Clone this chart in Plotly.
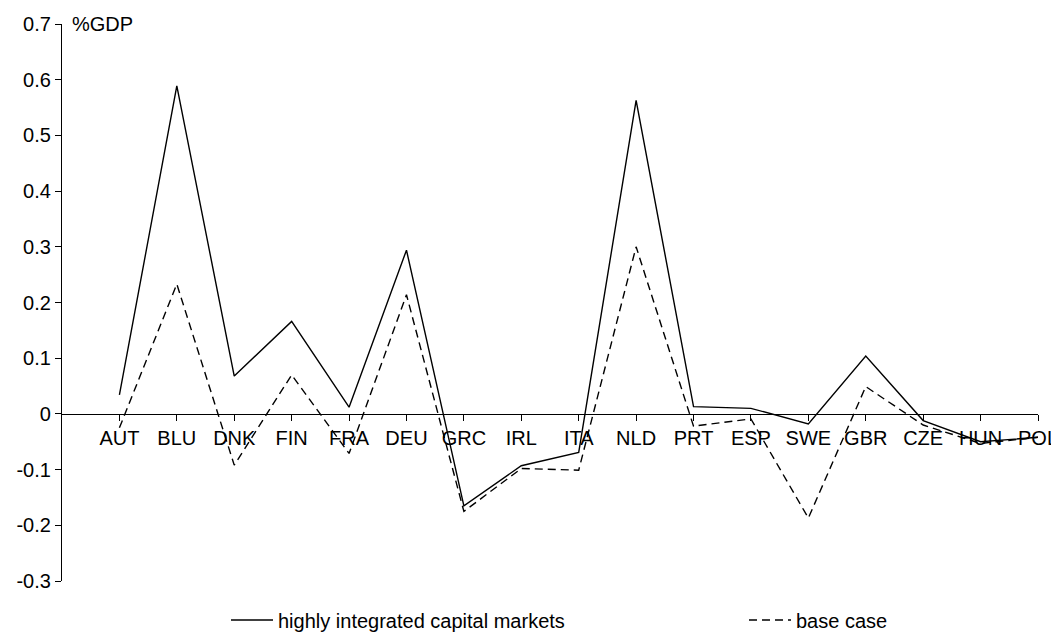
import plotly.graph_objects as go

countries = ["AUT", "BLU", "DNK", "FIN", "FRA", "DEU", "GRC", "IRL", "ITA",
             "NLD", "PRT", "ESP", "SWE", "GBR", "CZE", "HUN", "POL"]
integrated = [0.034, 0.589, 0.068, 0.166, 0.012, 0.294, -0.165, -0.093, -0.069,
              0.563, 0.013, 0.010, -0.018, 0.104, -0.012, -0.050, -0.042]
base_case = [-0.025, 0.233, -0.092, 0.070, -0.071, 0.214, -0.175, -0.098, -0.101,
             0.300, -0.022, -0.009, -0.187, 0.049, -0.020, -0.053, -0.042]
y_ticks = [-0.3, -0.2, -0.1, 0, 0.1, 0.2, 0.3, 0.4, 0.5, 0.6, 0.7]
y_tick_text = ["-0.3", "-0.2", "-0.1", "0", "0.1", "0.2", "0.3", "0.4", "0.5", "0.6", "0.7"]

FONT = "Liberation Sans, Arial, sans-serif"
FS = 20
idx = list(range(len(countries)))

OFF = 8  # default page body margin
W, H = 1059 - OFF, 634 - OFF
L, R, T, B = 62 - OFF, 21, 24 - OFF, 53
PW = W - L - R
PH = H - T - B

fig = go.Figure()
fig.add_trace(go.Scatter(x=idx, y=integrated, mode="lines",
                         name="highly integrated capital markets",
                         line=dict(color="black", width=1.4), legend="legend"))
fig.add_trace(go.Scatter(x=idx, y=base_case, mode="lines", name="base case",
                         line=dict(color="black", width=1.4, dash="8px,5px"),
                         legend="legend2"))

y_min, y_max = -0.3, 0.7
leg_y = -(620 - (634 - B)) / PH
fig.update_layout(
    width=W, height=H,
    margin=dict(l=L, r=R, t=T, b=B, autoexpand=False),
    plot_bgcolor="white", paper_bgcolor="white",
    font=dict(family=FONT, size=FS, color="black"),
    showlegend=True,
    legend=dict(x=(226 - 62) / PW, xanchor="left", y=leg_y, yanchor="middle",
                itemwidth=42, font=dict(size=FS), bgcolor="rgba(0,0,0,0)"),
    legend2=dict(x=(744 - 62) / PW, xanchor="left", y=leg_y, yanchor="middle",
                 itemwidth=42, font=dict(size=FS), bgcolor="rgba(0,0,0,0)"),
    xaxis=dict(range=[-1, 16], tickmode="array", tickvals=idx, ticktext=countries,
               showgrid=False, zeroline=False, showline=True, linecolor="black",
               linewidth=1.3, ticks="outside", ticklen=6, tickcolor="black",
               anchor="free", position=(0 - y_min) / (y_max - y_min),
               tickfont=dict(size=FS), automargin=False),
    yaxis=dict(range=[y_min, y_max], tickmode="array", tickvals=y_ticks,
               ticktext=y_tick_text, showgrid=False, zeroline=False,
               showline=True, linecolor="black", linewidth=1.3,
               ticks="outside", ticklen=6, tickcolor="black",
               tickfont=dict(size=FS), automargin=False),
    annotations=[dict(text="%GDP", xref="paper", yref="paper", x=0.008, y=1.0,
                      xanchor="left", yanchor="middle", showarrow=False,
                      font=dict(size=FS))],
)

fig.write_html("out.html")
